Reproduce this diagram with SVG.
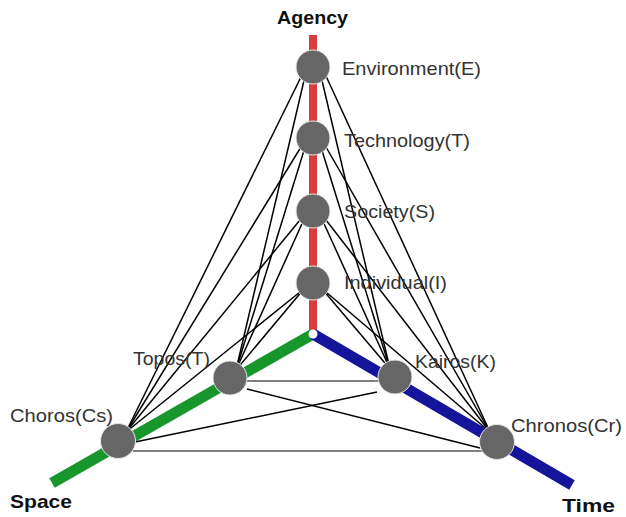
<svg xmlns="http://www.w3.org/2000/svg" width="626" height="517" viewBox="0 0 626 517">
<style>
.axis{fill:none;stroke-linecap:butt}
.edge{stroke:#000;stroke-width:1.5;fill:none}
.hedge{stroke:#555;stroke-width:1.7;fill:none}
.node circle{fill:#666666;stroke:#e8e8e8;stroke-width:1}
.lbl{font-family:"Liberation Sans",Arial,sans-serif;font-size:19px;fill:#333}
.ax{font-family:"Liberation Sans",Arial,sans-serif;font-size:19px;font-weight:bold;fill:#111}
</style>
<rect width="626" height="517" fill="#ffffff"/>
<g id="axes">
<line class="axis" x1="313" y1="35" x2="313" y2="334" stroke="#d83c3c" stroke-width="8"/>
<line class="axis" x1="313" y1="334" x2="52" y2="483" stroke="#17972b" stroke-width="11"/>
<line class="axis" x1="313" y1="334" x2="572" y2="485" stroke="#15159b" stroke-width="11"/>
<circle cx="313" cy="334" r="4.5" fill="#ffffff"/>
</g>
<g id="connectors">
<line class="edge" x1="306" y1="72" x2="236" y2="370"/>
<line class="edge" x1="301" y1="77" x2="126" y2="432"/>
<line class="edge" x1="320" y1="72" x2="390" y2="369"/>
<line class="edge" x1="326" y1="76" x2="490" y2="432"/>
<line class="edge" x1="306" y1="144" x2="236" y2="370"/>
<line class="edge" x1="301" y1="147" x2="126" y2="432"/>
<line class="edge" x1="320" y1="144" x2="390" y2="369"/>
<line class="edge" x1="326" y1="147" x2="490" y2="432"/>
<line class="edge" x1="305" y1="217" x2="236" y2="370"/>
<line class="edge" x1="300" y1="220" x2="126" y2="432"/>
<line class="edge" x1="321" y1="217" x2="390" y2="369"/>
<line class="edge" x1="326" y1="220" x2="490" y2="432"/>
<line class="edge" x1="303" y1="290" x2="236" y2="370"/>
<line class="edge" x1="300" y1="292" x2="126" y2="432"/>
<line class="edge" x1="323" y1="290" x2="390" y2="369"/>
<line class="edge" x1="326" y1="292" x2="490" y2="432"/>
<line class="hedge" x1="246" y1="381" x2="379" y2="381"/>
<line class="hedge" x1="133" y1="451" x2="483" y2="451"/>
<line class="edge" x1="247" y1="389" x2="480" y2="448"/>
<line class="edge" x1="377" y1="392" x2="135" y2="442"/>
</g>
<g id="node-E" class="node"><circle cx="313" cy="67" r="17"/><text class="lbl" x="342" y="75" textLength="139" lengthAdjust="spacingAndGlyphs">Environment(E)</text></g>
<g id="node-T" class="node"><circle cx="313" cy="138" r="17"/><text class="lbl" x="344" y="147" textLength="126" lengthAdjust="spacingAndGlyphs">Technology(T)</text></g>
<g id="node-S" class="node"><circle cx="313" cy="211" r="17"/><text class="lbl" x="344" y="218" textLength="91" lengthAdjust="spacingAndGlyphs">Society(S)</text></g>
<g id="node-I" class="node"><circle cx="313" cy="283" r="17"/><text class="lbl" x="344" y="289" textLength="103" lengthAdjust="spacingAndGlyphs">Individual(I)</text></g>
<g id="node-Topos" class="node"><circle cx="230" cy="378" r="17"/><text class="lbl" x="133" y="365" textLength="77" lengthAdjust="spacingAndGlyphs">Topos(T)</text></g>
<g id="node-Kairos" class="node"><circle cx="395" cy="377" r="17"/><text class="lbl" x="415" y="368" textLength="81" lengthAdjust="spacingAndGlyphs">Kairos(K)</text></g>
<g id="node-Choros" class="node"><circle cx="118" cy="441" r="17.5"/><text class="lbl" x="10" y="422" textLength="103" lengthAdjust="spacingAndGlyphs">Choros(Cs)</text></g>
<g id="node-Chronos" class="node"><circle cx="497" cy="442" r="17.5"/><text class="lbl" x="511" y="432" textLength="111" lengthAdjust="spacingAndGlyphs">Chronos(Cr)</text></g>
<g id="axis-labels">
<text class="ax" x="277" y="24" textLength="71" lengthAdjust="spacingAndGlyphs">Agency</text>
<text class="ax" x="10" y="508" textLength="62" lengthAdjust="spacingAndGlyphs">Space</text>
<text class="ax" x="562" y="512" textLength="53" lengthAdjust="spacingAndGlyphs">Time</text>
</g>
</svg>
